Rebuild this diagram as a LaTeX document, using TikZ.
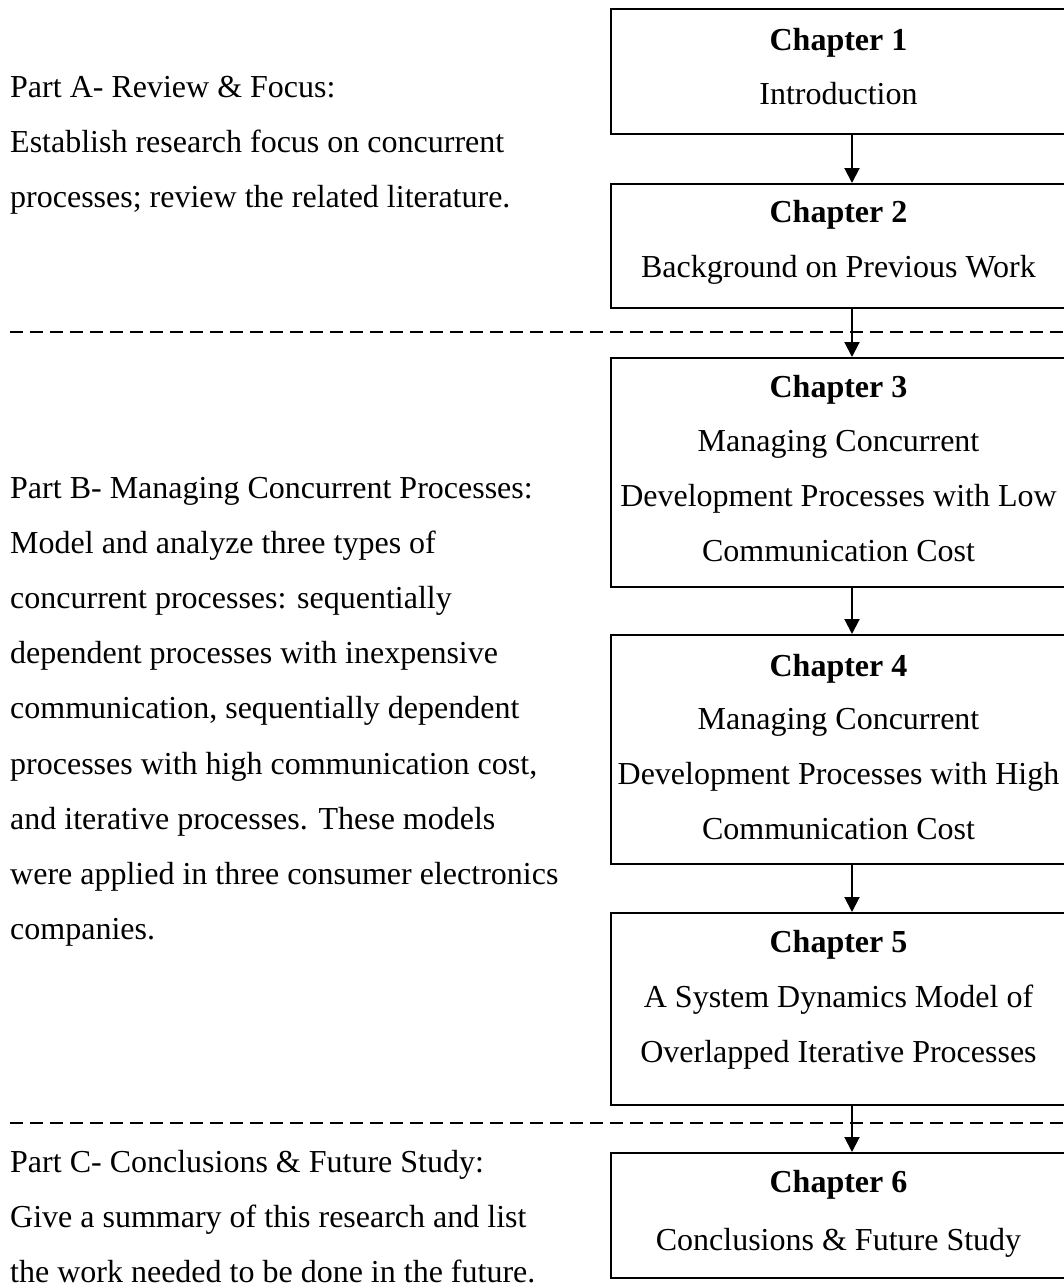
\documentclass[tikz,border=0pt]{standalone}
\usepackage{fontspec}
\setmainfont{Liberation Serif}
\usetikzlibrary{arrows.meta}
\begin{document}
\begin{tikzpicture}[x=1pt,y=-1pt,
  every node/.style={font=\fontsize{32pt}{55pt}\selectfont, inner sep=0pt},
  chapbox/.style={draw, rectangle, line width=2pt, minimum width=482pt,
    anchor=north west, inner sep=0pt},
  boxline/.style={anchor=base},
  partline/.style={anchor=base west},
  flow/.style={line width=2pt, -{Triangle[width=15pt,length=15pt]}},
  divider/.style={line width=2pt, dash pattern=on 13.3pt off 6.7pt}]
\useasboundingbox (0,0) rectangle (1064,1288);
\clip (0,0) rectangle (1064,1288);

% chapter boxes (they run past the right edge)
\node[chapbox, minimum height=125pt] (c1) at (610,8)    {};
\node[chapbox, minimum height=124pt] (c2) at (610,183)  {};
\node[chapbox, minimum height=229pt] (c3) at (610,357)  {};
\node[chapbox, minimum height=229pt] (c4) at (610,634)  {};
\node[chapbox, minimum height=192pt] (c5) at (610,912)  {};
\node[chapbox, minimum height=125pt] (c6) at (610,1152) {};

% chapter titles and descriptions
\def\cx{838.5}
\node[boxline] (c1a) at (\cx,50)  {\textbf{Chapter 1}};
\node[boxline] (c1b) at (\cx,104) {Introduction};
\node[boxline] (c2a) at (\cx,222) {\textbf{Chapter 2}};
\node[boxline] (c2b) at (\cx,277) {Background on Previous Work};
\node[boxline] (c3a) at (\cx,397) {\textbf{Chapter 3}};
\node[boxline] (c3b) at (\cx,451) {Managing Concurrent};
\node[boxline] (c3c) at (\cx,506) {Development Processes with Low};
\node[boxline] (c3d) at (\cx,561) {Communication Cost};
\node[boxline] (c4a) at (\cx,676) {\textbf{Chapter 4}};
\node[boxline] (c4b) at (\cx,729) {Managing Concurrent};
\node[boxline] (c4c) at (\cx,784) {Development Processes with High};
\node[boxline] (c4d) at (\cx,839) {Communication Cost};
\node[boxline] (c5a) at (\cx,952) {\textbf{Chapter 5}};
\node[boxline] (c5b) at (\cx,1007) {A System Dynamics Model of};
\node[boxline] (c5c) at (\cx,1062) {Overlapped Iterative Processes};
\node[boxline] (c6a) at (\cx,1192) {\textbf{Chapter 6}};
\node[boxline] (c6b) at (\cx,1250) {Conclusions \& Future Study};

% part descriptions on the left
\node[partline] (pa1) at (10,97)  {Part A- Review \& Focus:};
\node[partline] (pa2) at (10,152) {Establish research focus on concurrent};
\node[partline] (pa3) at (10,207) {processes; review the related literature.};

\node[partline] (pb1) at (10,498)   {Part B- Managing Concurrent Processes:};
\node[partline] (pb2) at (10,553.2) {Model and analyze three types of};
\node[partline] (pb3) at (10,608.4) {concurrent processes: sequentially};
\node[partline] (pb4) at (10,663.6) {dependent processes with inexpensive};
\node[partline] (pb5) at (10,718.8) {communication, sequentially dependent};
\node[partline] (pb6) at (10,774)   {processes with high communication cost,};
\node[partline] (pb7) at (10,829.2) {and iterative processes. These models};
\node[partline] (pb8) at (10,884.4) {were applied in three consumer electronics};
\node[partline] (pb9) at (10,939.6) {companies.};

\node[partline] (pc1) at (10,1172) {Part C- Conclusions \& Future Study:};
\node[partline] (pc2) at (10,1227) {Give a summary of this research and list};
\node[partline] (pc3) at (10,1282) {the work needed to be done in the future.};

% dashed dividers between the parts
\coordinate (d1l) at (10,332);  \coordinate (d1r) at (1064,332);
\coordinate (d2l) at (10,1123); \coordinate (d2r) at (1064,1123);
\draw[divider] (d1l) -- (d1r);
\draw[divider] (d2l) -- (d2r);

% flow between chapters
\draw[flow] (c1.south) -- (c2.north);
\draw[flow] (c2.south) -- (c3.north);
\draw[flow] (c3.south) -- (c4.north);
\draw[flow] (c4.south) -- (c5.north);
\draw[flow] (c5.south) -- (c6.north);
\end{tikzpicture}
\end{document}
